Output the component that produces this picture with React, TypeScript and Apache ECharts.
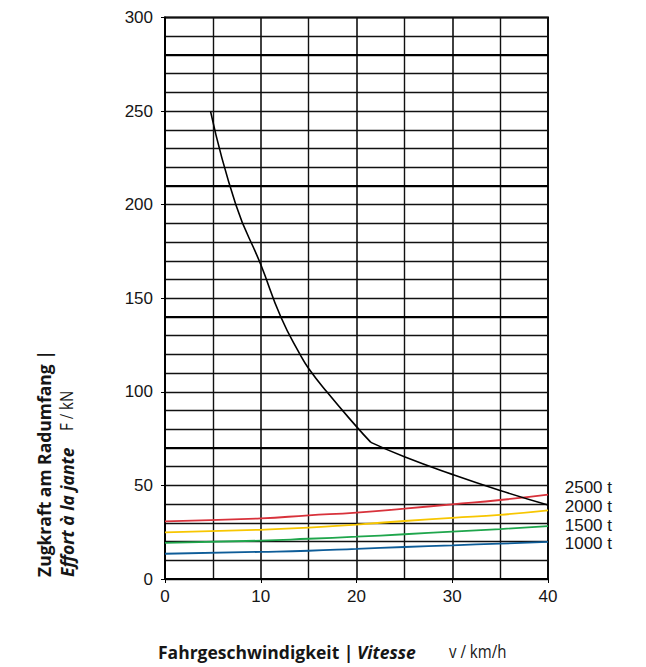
import React, { useEffect, useRef } from "react";
import * as echarts from "echarts";

// Tractive effort curve (speed km/h, force kN)
const effortHigh: [number, number][] = [
  [4.75, 250], [7.4, 200], [10, 168], [12.1, 140],
  [14.1, 120], [15, 112.5], [16.9, 100], [20, 81.4], [21.5, 73],
];
const effortLow: [number, number][] = [
  [21.5, 73], [25, 65.3], [30, 55.9], [35, 47.3], [40, 39.5],
];

// Running resistance curves
const resSpeeds = [0, 10, 15, 20, 25, 30, 35, 40];
const res2500 = [30.8, 32.4, 34.0, 35.5, 37.6, 39.9, 42.2, 45.1];
const res2000 = [24.9, 26.3, 27.4, 29.1, 31.0, 32.7, 34.3, 36.7];
const res1500 = [19.3, 20.5, 21.5, 22.6, 23.9, 25.3, 26.7, 28.3];
const res1000 = [13.5, 14.5, 15.1, 16.1, 17.1, 18.0, 18.9, 19.8];

const loadLabels = ["2500 t", "2000 t", "1500 t", "1000 t"];
const loadColors = ["#d8323b", "#f7c600", "#1fa64c", "#0d5c98"];
const thickLines = [70, 140, 210, 280];

const zip = (xs: number[], ys: number[]) => xs.map((x, i) => [x, ys[i]]);

export default function App() {
  const ref = useRef<HTMLDivElement>(null);
  useEffect(() => {
    document.body.style.margin = "0";
    const chart = echarts.init(ref.current!, undefined, { renderer: "svg" });
    const numFont = "Liberation Sans, Arial, sans-serif";
    const titleFont = "Open Sans, sans-serif";
    const ink = "#161616";
    const resSeries = [res2500, res2000, res1500, res1000].map((vals, i) => ({
      type: "line",
      data: zip(resSpeeds, vals),
      smooth: 0.5,
      symbol: "none",
      lineStyle: { color: loadColors[i], width: 1.8 },
      z: 3,
    }));
    chart.setOption({
      animation: false,
      grid: {
        left: 165, right: 98, top: 17.5, bottom: 88,
        show: true, borderColor: "#000", borderWidth: 2,
      },
      xAxis: {
        type: "value", min: 0, max: 40, interval: 10,
        axisLine: { show: true, lineStyle: { color: "#000", width: 2 } },
        axisTick: { show: true, length: 4, lineStyle: { color: "#000", width: 1 } },
        axisLabel: { fontSize: 17, color: ink, margin: 9, fontFamily: numFont },
        splitLine: { show: true, lineStyle: { color: "#111", width: 1.6 } },
        minorTick: { show: false, splitNumber: 2 },
        minorSplitLine: { show: true, lineStyle: { color: "#111", width: 1.4 } },
      },
      yAxis: {
        type: "value", min: 0, max: 300, interval: 50,
        axisLine: { show: true, lineStyle: { color: "#000", width: 2 } },
        axisTick: { show: true, length: 4, lineStyle: { color: "#000", width: 1 } },
        axisLabel: { fontSize: 17, color: ink, margin: 12, fontFamily: numFont },
        splitLine: { show: true, lineStyle: { color: "#111", width: 1.4 } },
        minorTick: { show: false, splitNumber: 5 },
        minorSplitLine: { show: true, lineStyle: { color: "#111", width: 1.4 } },
      },
      series: [
        {
          type: "line",
          data: effortHigh,
          smooth: 0.5,
          symbol: "none",
          lineStyle: { color: "#000", width: 1.6 },
          z: 4,
          markLine: {
            silent: true,
            symbol: "none",
            label: { show: false },
            lineStyle: { color: "#000", width: 2, type: "solid" },
            data: thickLines.map((v) => ({ yAxis: v })),
            z: 1,
          },
        },
        {
          type: "line",
          data: effortLow,
          smooth: 0.5,
          symbol: "none",
          lineStyle: { color: "#000", width: 1.6 },
          z: 4,
        },
        ...resSeries,
      ],
      graphic: [
        ...loadLabels.map((t, i) => ({
          type: "text",
          x: 612,
          y: 487.7 + i * 18.7,
          style: {
            text: t, fill: ink, font: `17px ${numFont}`,
            align: "right", verticalAlign: "middle",
          },
        })),
        {
          type: "text", x: 158, y: 652,
          style: {
            text: "Fahrgeschwindigkeit |", fill: ink,
            font: `bold 17.5px ${titleFont}`, align: "left", verticalAlign: "middle",
          },
        },
        {
          type: "text", x: 357, y: 652,
          style: {
            text: "Vitesse", fill: ink,
            font: `italic bold 17.5px ${titleFont}`, align: "left", verticalAlign: "middle",
          },
        },
        {
          type: "text", x: 449, y: 652, scaleX: 0.86,
          style: {
            text: "v / km/h", fill: ink,
            font: `17.5px ${titleFont}`, align: "left", verticalAlign: "middle",
          },
        },
        {
          type: "text", x: 43.5, y: 577, rotation: Math.PI / 2,
          style: {
            text: "Zugkraft am Radumfang |", fill: ink,
            font: `bold 17.5px ${titleFont}`, align: "left", verticalAlign: "middle",
          },
        },
        {
          type: "text", x: 66.5, y: 577, rotation: Math.PI / 2,
          style: {
            text: "Effort à la jante", fill: ink,
            font: `italic bold 17.5px ${titleFont}`, align: "left", verticalAlign: "middle",
          },
        },
        {
          type: "text", x: 66.5, y: 431, rotation: Math.PI / 2, scaleX: 0.86,
          style: {
            text: "F / kN", fill: ink,
            font: `17.5px ${titleFont}`, align: "left", verticalAlign: "middle",
          },
        },
      ],
    });
    return () => chart.dispose();
  }, []);
  return <div ref={ref} style={{ width: 646, height: 667 }} />;
}
